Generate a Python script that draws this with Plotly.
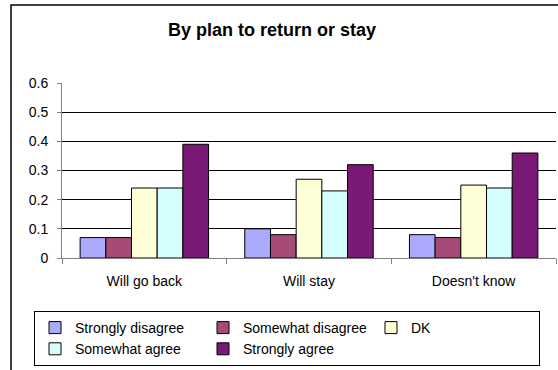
import plotly.graph_objects as go

categories = ["Will go back", "Will stay", "Doesn't know"]
series_names = ["Strongly disagree", "Somewhat disagree", "DK", "Somewhat agree", "Strongly agree"]
strongly_disagree = [0.07, 0.10, 0.08]
somewhat_disagree = [0.07, 0.08, 0.07]
dk = [0.24, 0.27, 0.25]
somewhat_agree = [0.24, 0.23, 0.24]
strongly_agree = [0.39, 0.32, 0.36]
y_ticks = [0, 0.1, 0.2, 0.3, 0.4, 0.5, 0.6]
y_tick_labels = ["0", "0.1", "0.2", "0.3", "0.4", "0.5", "0.6"]

colors = ["#AAAAFF", "#A64B78", "#FFFFD7", "#D5FFFF", "#7A1A76"]
values = [strongly_disagree, somewhat_disagree, dk, somewhat_agree, strongly_agree]

fig = go.Figure()
for name, vals, col in zip(series_names, values, colors):
    fig.add_trace(go.Bar(x=categories, y=vals, name=name,
                         marker=dict(color=col, line=dict(color="#000000", width=1))))

fig.update_layout(
    width=558, height=370,
    margin=dict(l=62, r=2, t=83, b=112),
    paper_bgcolor="white", plot_bgcolor="white",
    font=dict(family="Liberation Sans, Arial", size=14, color="black"),
    barmode="group", bargap=0.22, bargroupgap=0,
    title=dict(text="<b>By plan to return or stay</b>", x=272 / 558, xref="container",
               y=1 - 30 / 370, yanchor="middle", xanchor="center",
               font=dict(size=18)),
    showlegend=True,
    legend=dict(orientation="h", x=(34 - 62) / 494, xref="paper", y=(258 - 311) / 175,
                yref="paper", xanchor="left", yanchor="top",
                bordercolor="black", borderwidth=1, bgcolor="white",
                font=dict(size=14), traceorder="normal", itemclick=False,
                entrywidth=123, entrywidthmode="pixels", tracegroupgap=0),
    xaxis=dict(showline=True, linecolor="#808080", linewidth=1, ticks="outside",
               tickson="boundaries", ticklen=5, tickcolor="#808080",
               showgrid=False, tickfont=dict(size=14), ticklabelstandoff=10),
    yaxis=dict(range=[0, 0.6], tickvals=y_ticks, ticktext=y_tick_labels,
               showline=True, linecolor="#808080", linewidth=1, ticks="outside",
               ticklen=4, tickcolor="#808080", showgrid=True, gridcolor="#000000",
               gridwidth=1, zeroline=False, tickfont=dict(size=14),
               ticklabelstandoff=6),
)

fig.add_shape(type="rect", xref="paper", yref="paper",
              x0=-0.1032, x1=1.2, y0=-0.75, y1=1.4457,
              line=dict(color="#000000", width=1.5), fillcolor="rgba(0,0,0,0)", layer="below")

fig.write_html("out.html")
